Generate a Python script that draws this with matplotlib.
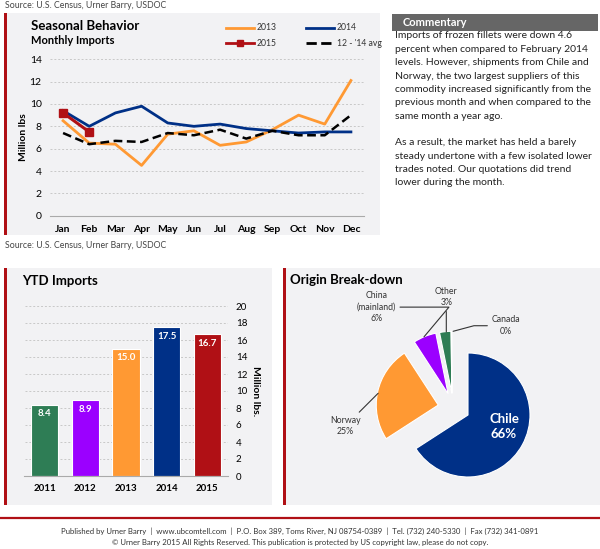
import matplotlib
matplotlib.use("Agg")
import matplotlib.pyplot as plt
from matplotlib.patches import Rectangle
from matplotlib.lines import Line2D

plt.rcParams['font.family'] = ['Lato', 'DejaVu Sans']

W, H = 600, 549
BG = "#f2f2f4"
RED = "#b01015"
ORANGE = "#ff9933"
NAVY = "#003087"
GREEN = "#2e7d55"
PURPLE = "#9b00ff"

# monthly imports (million lbs)
months = ["Jan", "Feb", "Mar", "Apr", "May", "Jun", "Jul", "Aug", "Sep", "Oct", "Nov", "Dec"]
imp_2013 = [8.5, 6.5, 6.4, 4.5, 7.3, 7.6, 6.3, 6.6, 7.7, 9.0, 8.2, 12.1]
imp_2014 = [9.4, 8.0, 9.2, 9.8, 8.3, 8.0, 8.2, 7.8, 7.6, 7.4, 7.5, 7.5]
imp_2015 = [9.2, 7.5]
imp_avg = [7.4, 6.4, 6.7, 6.6, 7.4, 7.2, 7.7, 6.9, 7.6, 7.2, 7.2, 9.0]

# ytd imports
ytd_years = ["2011", "2012", "2013", "2014", "2015"]
ytd_vals = [8.4, 8.9, 15.0, 17.5, 16.7]
ytd_colors = [GREEN, PURPLE, ORANGE, NAVY, RED]

# origin break-down (%)
origins = ["Chile", "Norway", "China\n(mainland)", "Other", "Canada"]
origin_share = [66, 25, 6, 3, 0.2]
origin_colors = [NAVY, ORANGE, PURPLE, GREEN, "#c8c8c8"]

commentary = [
    "Imports of frozen fillets were down 4.6",
    "percent when compared to February 2014",
    "levels. However, shipments from Chile and",
    "Norway, the two largest suppliers of this",
    "commodity increased significantly from the",
    "previous month and when compared to the",
    "same month a year ago.",
    "",
    "As a result, the market has held a barely",
    "steady undertone with a few isolated lower",
    "trades noted. Our quotations did trend",
    "lower during the month.",
]


def fx(x):
    return x / W


def fy(y):
    return 1 - y / H


def box(x0, y0, x1, y1):
    # left, bottom, width, height in figure fraction from pixel box
    return [fx(x0), fy(y1), (x1 - x0) / W, (y1 - y0) / H]


fig = plt.figure(figsize=(6, 5.49), dpi=100)
fig.patch.set_facecolor("white")


def panel(x0, y0, x1, y1):
    fig.patches.append(Rectangle((fx(x0), fy(y1)), (x1 - x0) / W, (y1 - y0) / H,
                                 transform=fig.transFigure, facecolor=BG, edgecolor="none", zorder=-5))
    fig.patches.append(Rectangle((fx(x0), fy(y1)), 2.5 / W, (y1 - y0) / H,
                                 transform=fig.transFigure, facecolor=RED, edgecolor="none", zorder=-4))


panel(4, 13, 380, 235)
panel(4, 268, 272, 505)
panel(283, 268, 600, 505)

src = "Source: U.S. Census, Urner Barry, USDOC"
fig.text(fx(5), fy(6), src, fontsize=6.3, color="#444444", va="center")
fig.text(fx(5), fy(245), src, fontsize=6.3, color="#444444", va="center")

# ---------------- seasonal line chart ----------------
ax = fig.add_axes(box(50, 59.3, 364, 215.7))
ax.set_facecolor("none")
x = list(range(12))
ax.plot(x, imp_2013, color=ORANGE, lw=2)
ax.plot(x, imp_2014, color=NAVY, lw=2)
ax.plot(x, imp_avg, color="black", lw=1.8, ls=(0, (3.5, 1.8)))
ax.plot(range(len(imp_2015)), imp_2015, color=RED, lw=2.2, marker="s", ms=6)
ax.set_xlim(-0.5, 11.5)
ax.set_ylim(0, 14)
ax.set_yticks(range(0, 15, 2))
ax.set_xticks(x)
ax.set_xticklabels(months, fontweight="bold", fontsize=7.5)
ax.tick_params(axis="y", labelsize=7.5, length=0, pad=6)
ax.tick_params(axis="x", length=0, pad=7)
ax.grid(axis="y", color="#c8c8c8", ls=(0, (2, 2)), lw=0.7)
ax.set_axisbelow(True)
for s in ["top", "right", "left"]:
    ax.spines[s].set_visible(False)
ax.spines["bottom"].set_color("#aaaaaa")
ax.set_ylabel("Million lbs", fontsize=7.5, fontweight="bold", labelpad=1)

fig.text(fx(31), fy(26), "Seasonal Behavior", fontsize=9.5, fontweight="bold", va="center")
fig.text(fx(31), fy(40.5), "Monthly Imports", fontsize=8, fontweight="bold", va="center")

legend_items = [
    (226, 28, ORANGE, "-", None, "2013"),
    (306, 28, NAVY, "-", None, "2014"),
    (226, 43, RED, "-", "s", "2015"),
    (306, 43, "black", "--", None, "12 - '14 avg"),
]
for lx, ly, c, ls, mk, lab in legend_items:
    fig.lines.append(Line2D([fx(lx), fx(lx + 28)], [fy(ly), fy(ly)], transform=fig.transFigure,
                            color=c, lw=2, ls=ls))
    if mk:
        fig.lines.append(Line2D([fx(lx + 14)], [fy(ly)], transform=fig.transFigure,
                                color=c, marker=mk, ms=4.5))
    fig.text(fx(lx + 31), fy(ly), lab, fontsize=6.2, va="center", color="#333333")

# ---------------- commentary ----------------
fig.patches.append(Rectangle((fx(392), fy(31)), 206 / W, 17 / H, transform=fig.transFigure,
                             facecolor="#666666", edgecolor="none"))
fig.text(fx(403), fy(22.5), "Commentary", fontsize=8, fontweight="bold", color="white", va="center")
for i, line in enumerate(commentary):
    fig.text(fx(395), fy(36 + i * 13.35), line, fontsize=7.45, va="center", color="#222222")

# ---------------- YTD bars ----------------
bx = fig.add_axes(box(24.5, 306, 227.5, 476))
bx.set_facecolor("none")
bars = bx.bar(range(5), ytd_vals, width=0.67, color=ytd_colors, edgecolor="white", lw=0.8)
for i, v in enumerate(ytd_vals):
    bx.text(i, v - 1.1, f"{v:.1f}", ha="center", va="center", color="white",
            fontsize=7, fontweight="bold")
bx.set_xlim(-0.5, 4.5)
bx.set_ylim(0, 20)
bx.set_yticks(range(0, 21, 2))
bx.yaxis.tick_right()
bx.yaxis.set_label_position("right")
bx.set_xticks(range(5))
bx.set_xticklabels(ytd_years, fontweight="bold", fontsize=7)
bx.tick_params(axis="y", labelsize=7, length=0, pad=6)
bx.tick_params(axis="x", length=0, pad=6)
bx.grid(axis="y", color="#c8c8c8", ls=(0, (2, 2)), lw=0.7)
bx.set_axisbelow(True)
for s in ["top", "right", "left"]:
    bx.spines[s].set_visible(False)
bx.spines["bottom"].set_color("#aaaaaa")
bx.set_ylabel("Million lbs.", fontsize=7.5, fontweight="bold", rotation=-90, labelpad=9)
fig.text(fx(22), fy(281), "YTD Imports", fontsize=9.5, fontweight="bold", va="center")

# ---------------- origin pie ----------------
R = 62.0
cx, cy = 468, 415
half = 120
px = fig.add_axes(box(cx - half, cy - half, cx + half, cy + half))
px.set_facecolor("none")
wedges, _ = px.pie(origin_share, colors=origin_colors, startangle=90, counterclock=False,
                   radius=1, wedgeprops=dict(edgecolor="white", linewidth=0.8))
# pulled-out slices, shifted like the original (offsets in radius units)
slice_offsets = [(0, 0), (-0.48, 0.16), (-0.32, 0.34), (-0.26, 0.35), (-0.26, 0.35)]
for w, off in zip(wedges, slice_offsets):
    w.set_center(off)
lim = half / R
px.set_xlim(-lim, lim)
px.set_ylim(-lim, lim)
px.set_aspect("equal")
px.axis("off")

px.text(0.58, -0.19, "Chile\n66%", ha="center", va="center", color="white",
        fontsize=9.5, fontweight="bold", linespacing=1.3)
lbl = dict(fontsize=6.3, color="#333333", ha="center", va="center", linespacing=1.35)
arrow = dict(arrowstyle="-", color="#333333", lw=0.8, shrinkA=1, shrinkB=0)
px.annotate("Norway\n25%", xy=(-1.45, 0.35), xytext=(-1.98, -0.18),
            arrowprops=dict(arrow, connectionstyle="angle,angleA=0,angleB=45,rad=0"), **lbl)
px.annotate("China\n(mainland)\n6%", xy=(-0.71, 1.26), xytext=(-1.48, 1.74),
            arrowprops=dict(arrow, connectionstyle="angle,angleA=0,angleB=50,rad=0"), **lbl)
px.annotate("Other\n3%", xy=(-0.35, 1.34), xytext=(-0.35, 1.90),
            arrowprops=arrow, **lbl)
px.annotate("Canada\n0%", xy=(-0.24, 1.35), xytext=(0.61, 1.44),
            arrowprops=dict(arrow, connectionstyle="angle,angleA=0,angleB=15,rad=0"), **lbl)
fig.text(fx(290), fy(280), "Origin Break-down", fontsize=9.5, fontweight="bold", va="center")

# ---------------- footer ----------------
fig.lines.append(Line2D([0, 1], [fy(518), fy(518)], transform=fig.transFigure, color=RED, lw=1.6))
fig.text(0.5, fy(531), "Published by Urner Barry  |  www.ubcomtell.com  |  P.O. Box 389, Toms River, NJ 08754-0389"
         "  |  Tel. (732) 240-5330  |  Fax (732) 341-0891", fontsize=5.6, ha="center", va="center", color="#333333")
fig.text(0.5, fy(542), "\u00a9 Urner Barry 2015 All Rights Reserved. This publication is protected by US copyright law,"
         " please do not copy.", fontsize=5.6, ha="center", va="center", color="#333333")

fig.savefig("out.png", dpi=100, facecolor="white")
